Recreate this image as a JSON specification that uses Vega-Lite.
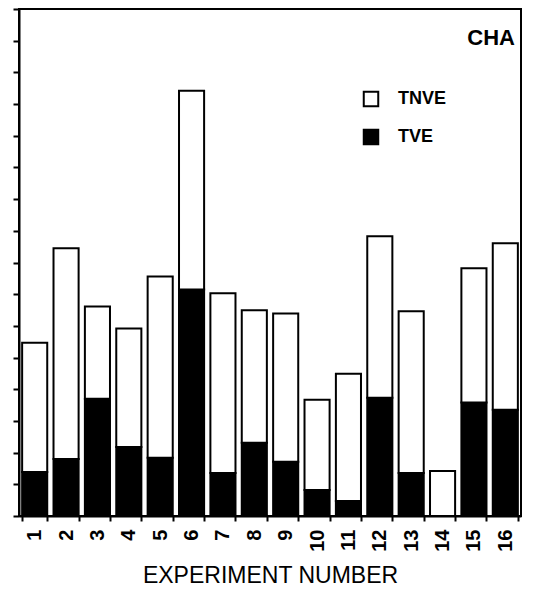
{
  "$schema": "https://vega.github.io/schema/vega-lite/v6.json",
  "width": 502,
  "height": 507,
  "padding": {"left": 9, "top": 8, "right": 24, "bottom": 2},
  "background": "white",
  "title": {
    "text": "CHA",
    "anchor": "end",
    "frame": "group",
    "orient": "top",
    "font": "Liberation Sans",
    "fontSize": 22,
    "fontWeight": "bold",
    "color": "black",
    "offset": -42,
    "dx": -6
  },
  "data": {
    "values": [
      {"experiment": "1", "type": "TVE", "value": 1.39},
      {"experiment": "1", "type": "TNVE", "value": 4.08},
      {"experiment": "2", "type": "TVE", "value": 1.80},
      {"experiment": "2", "type": "TNVE", "value": 6.65},
      {"experiment": "3", "type": "TVE", "value": 3.70},
      {"experiment": "3", "type": "TNVE", "value": 2.91},
      {"experiment": "4", "type": "TVE", "value": 2.18},
      {"experiment": "4", "type": "TNVE", "value": 3.74},
      {"experiment": "5", "type": "TVE", "value": 1.84},
      {"experiment": "5", "type": "TNVE", "value": 5.72},
      {"experiment": "6", "type": "TVE", "value": 7.15},
      {"experiment": "6", "type": "TNVE", "value": 6.27},
      {"experiment": "7", "type": "TVE", "value": 1.36},
      {"experiment": "7", "type": "TNVE", "value": 5.67},
      {"experiment": "8", "type": "TVE", "value": 2.31},
      {"experiment": "8", "type": "TNVE", "value": 4.18},
      {"experiment": "9", "type": "TVE", "value": 1.71},
      {"experiment": "9", "type": "TNVE", "value": 4.68},
      {"experiment": "10", "type": "TVE", "value": 0.82},
      {"experiment": "10", "type": "TNVE", "value": 2.85},
      {"experiment": "11", "type": "TVE", "value": 0.47},
      {"experiment": "11", "type": "TNVE", "value": 4.02},
      {"experiment": "12", "type": "TVE", "value": 3.73},
      {"experiment": "12", "type": "TNVE", "value": 5.10},
      {"experiment": "13", "type": "TVE", "value": 1.36},
      {"experiment": "13", "type": "TNVE", "value": 5.10},
      {"experiment": "14", "type": "TVE", "value": 0},
      {"experiment": "14", "type": "TNVE", "value": 1.42},
      {"experiment": "15", "type": "TVE", "value": 3.58},
      {"experiment": "15", "type": "TNVE", "value": 4.24},
      {"experiment": "16", "type": "TVE", "value": 3.35},
      {"experiment": "16", "type": "TNVE", "value": 5.26}
    ]
  },
  "mark": {"type": "bar", "stroke": "black", "strokeWidth": 2},
  "encoding": {
    "x": {
      "field": "experiment",
      "type": "ordinal",
      "sort": null,
      "scale": {"paddingInner": 0.2, "paddingOuter": 0.1},
      "axis": {
        "title": "EXPERIMENT NUMBER",
        "titleFont": "Liberation Sans",
        "titleFontSize": 23,
        "titleFontWeight": 500,
        "titleColor": "black",
        "titlePadding": 13,
        "labelAngle": 270,
        "labelFont": "Liberation Sans",
        "labelFontSize": 20,
        "labelFontWeight": "bold",
        "labelColor": "black",
        "labelPadding": 8,
        "tickBand": "extent",
        "tickSize": 5,
        "tickColor": "black",
        "tickWidth": 2,
        "domainColor": "black",
        "domainWidth": 2
      }
    },
    "y": {
      "field": "value",
      "type": "quantitative",
      "stack": "zero",
      "scale": {"domain": [0, 16], "nice": false},
      "axis": {
        "title": null,
        "labels": false,
        "values": [0, 1, 2, 3, 4, 5, 6, 7, 8, 9, 10, 11, 12, 13, 14, 15, 16],
        "tickSize": 6,
        "tickColor": "black",
        "tickWidth": 2,
        "domainColor": "black",
        "domainWidth": 2,
        "grid": false
      }
    },
    "color": {
      "field": "type",
      "type": "nominal",
      "scale": {"domain": ["TNVE", "TVE"], "range": ["white", "black"]},
      "legend": {
        "title": null,
        "orient": "none",
        "legendX": 343,
        "legendY": 81,
        "symbolType": "square",
        "symbolSize": 210,
        "symbolStrokeColor": "black",
        "symbolStrokeWidth": 2,
        "labelFont": "Liberation Sans",
        "labelFontSize": 18,
        "labelFontWeight": "bold",
        "labelColor": "black",
        "labelOffset": 18,
        "rowPadding": 14
      }
    },
    "order": {"field": "type", "sort": "descending"}
  },
  "config": {
    "view": {"stroke": "black", "strokeWidth": 2}
  }
}
